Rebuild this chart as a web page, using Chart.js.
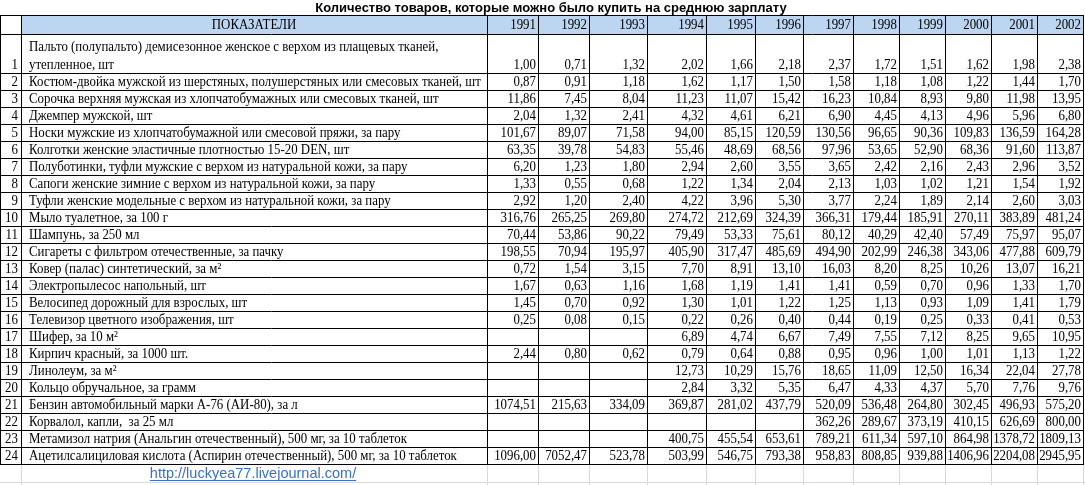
<!DOCTYPE html>
<html>
<head>
<meta charset="utf-8">
<script src="https://cdn.jsdelivr.net/npm/chart.js@4/dist/chart.umd.min.js"></script>
<style>
  body { margin: 0; background: #fff; }
  canvas { display: block; }
</style>
</head>
<body>
<canvas id="tablaChart" width="1085" height="485"></canvas>
<script>
// Годы (колонки таблицы)
const years = ['1991', '1992', '1993', '1994', '1995', '1996', '1997', '1998', '1999', '2000', '2001', '2002'];

// Показатели (строки таблицы)
const itemNames = [
    'Пальто (полупальто) демисезонное женское с верхом из плащевых тканей, утепленное, шт',
    'Костюм-двойка мужской из шерстяных, полушерстяных или смесовых тканей, шт',
    'Сорочка верхняя мужская из хлопчатобумажных или смесовых тканей, шт',
    'Джемпер мужской, шт',
    'Носки мужские из хлопчатобумажной или смесовой пряжи, за пару',
    'Колготки женские эластичные плотностью 15-20 DEN, шт',
    'Полуботинки, туфли мужские с верхом из натуральной кожи, за пару',
    'Сапоги женские зимние с верхом из натуральной кожи, за пару',
    'Туфли женские модельные с верхом из натуральной кожи, за пару',
    'Мыло туалетное, за 100 г',
    'Шампунь, за 250 мл',
    'Сигареты с фильтром отечественные, за пачку',
    'Ковер (палас) синтетический, за м²',
    'Электропылесос напольный, шт',
    'Велосипед дорожный для взрослых, шт',
    'Телевизор цветного изображения, шт',
    'Шифер, за 10 м²',
    'Кирпич красный, за 1000 шт.',
    'Линолеум, за м²',
    'Кольцо обручальное, за грамм',
    'Бензин автомобильный марки А-76 (АИ-80), за л',
    'Корвалол, капли,  за 25 мл',
    'Метамизол натрия (Анальгин отечественный), 500 мг, за 10 таблеток',
    'Ацетилсалициловая кислота (Аспирин отечественный), 500 мг, за 10 таблеток'
];

// Значения по годам 1991..2002 (null - нет данных)
const coat       = [1.00, 0.71, 1.32, 2.02, 1.66, 2.18, 2.37, 1.72, 1.51, 1.62, 1.98, 2.38];
const suit       = [0.87, 0.91, 1.18, 1.62, 1.17, 1.50, 1.58, 1.18, 1.08, 1.22, 1.44, 1.70];
const shirt      = [11.86, 7.45, 8.04, 11.23, 11.07, 15.42, 16.23, 10.84, 8.93, 9.80, 11.98, 13.95];
const jumper     = [2.04, 1.32, 2.41, 4.32, 4.61, 6.21, 6.90, 4.45, 4.13, 4.96, 5.96, 6.80];
const socks      = [101.67, 89.07, 71.58, 94.00, 85.15, 120.59, 130.56, 96.65, 90.36, 109.83, 136.59, 164.28];
const tights     = [63.35, 39.78, 54.83, 55.46, 48.69, 68.56, 97.96, 53.65, 52.90, 68.36, 91.60, 113.87];
const shoesMen   = [6.20, 1.23, 1.80, 2.94, 2.60, 3.55, 3.65, 2.42, 2.16, 2.43, 2.96, 3.52];
const boots      = [1.33, 0.55, 0.68, 1.22, 1.34, 2.04, 2.13, 1.03, 1.02, 1.21, 1.54, 1.92];
const shoesWomen = [2.92, 1.20, 2.40, 4.22, 3.96, 5.30, 3.77, 2.24, 1.89, 2.14, 2.60, 3.03];
const soap       = [316.76, 265.25, 269.80, 274.72, 212.69, 324.39, 366.31, 179.44, 185.91, 270.11, 383.89, 481.24];
const shampoo    = [70.44, 53.86, 90.22, 79.49, 53.33, 75.61, 80.12, 40.29, 42.40, 57.49, 75.97, 95.07];
const cigarettes = [198.55, 70.94, 195.97, 405.90, 317.47, 485.69, 494.90, 202.99, 246.38, 343.06, 477.88, 609.79];
const carpet     = [0.72, 1.54, 3.15, 7.70, 8.91, 13.10, 16.03, 8.20, 8.25, 10.26, 13.07, 16.21];
const vacuum     = [1.67, 0.63, 1.16, 1.68, 1.19, 1.41, 1.41, 0.59, 0.70, 0.96, 1.33, 1.70];
const bicycle    = [1.45, 0.70, 0.92, 1.30, 1.01, 1.22, 1.25, 1.13, 0.93, 1.09, 1.41, 1.79];
const tv         = [0.25, 0.08, 0.15, 0.22, 0.26, 0.40, 0.44, 0.19, 0.25, 0.33, 0.41, 0.53];
const slate      = [null, null, null, 6.89, 4.74, 6.67, 7.49, 7.55, 7.12, 8.25, 9.65, 10.95];
const brick      = [2.44, 0.80, 0.62, 0.79, 0.64, 0.88, 0.95, 0.96, 1.00, 1.01, 1.13, 1.22];
const linoleum   = [null, null, null, 12.73, 10.29, 15.76, 18.65, 11.09, 12.50, 16.34, 22.04, 27.78];
const ring       = [null, null, null, 2.84, 3.32, 5.35, 6.47, 4.33, 4.37, 5.70, 7.76, 9.76];
const petrol     = [1074.51, 215.63, 334.09, 369.87, 281.02, 437.79, 520.09, 536.48, 264.80, 302.45, 496.93, 575.20];
const corvalol   = [null, null, null, null, null, null, 362.26, 289.67, 373.19, 410.15, 626.69, 800.00];
const analgin    = [null, null, null, 400.75, 455.54, 653.61, 789.21, 611.34, 597.10, 864.98, 1378.72, 1809.13];
const aspirin    = [1096.00, 7052.47, 523.78, 503.99, 546.75, 793.38, 958.83, 808.85, 939.88, 1406.96, 2204.08, 2945.95];

const series = [coat, suit, shirt, jumper, socks, tights, shoesMen, boots, shoesWomen, soap, shampoo,
    cigarettes, carpet, vacuum, bicycle, tv, slate, brick, linoleum, ring, petrol, corvalol, analgin, aspirin];

// Ширины колонок: №, показатель, годы
const colWidths = [21, 466, 51, 51, 58, 59, 49, 48, 50, 46, 46, 46, 46, 46];
// Высоты строк: шапка, строка 1 (две линии), остальные
const rowHeights = [19, 39].concat(Array(23).fill(17));

function edges(sizes) {
    const out = [0];
    sizes.forEach(s => out.push(out[out.length - 1] + s));
    return out;
}
const colEdges = edges(colWidths);
const rowEdges = edges(rowHeights);

const fuente = '14px "Liberation Serif", "Times New Roman", serif';
const estrechar = 0.92; // el texto del original está algo comprimido en horizontal
const colorCabecera = '#bcd6f1';

function formatear(v) {
    return v.toFixed(2).replace('.', ',');
}

// Texto comprimido horizontalmente
function texto(ctx, t, x, y, align) {
    ctx.save();
    ctx.translate(x, y);
    ctx.scale(estrechar, 1);
    ctx.textAlign = align;
    ctx.fillText(t, 0, 0);
    ctx.restore();
}

// Partir texto en líneas para celdas altas
function partirTexto(ctx, t, ancho) {
    const palabras = t.split(' ');
    const lineas = [];
    let actual = '';
    palabras.forEach(p => {
        const prueba = actual ? actual + ' ' + p : p;
        if (ctx.measureText(prueba).width * estrechar > ancho && actual) {
            lineas.push(actual);
            actual = p;
        } else {
            actual = prueba;
        }
    });
    lineas.push(actual);
    return lineas;
}

const tablaPlugin = {
    id: 'tabla',
    beforeDraw(chart) {
        const { ctx, scales: { x, y } } = chart;
        ctx.save();
        ctx.fillStyle = colorCabecera;
        const l = x.getPixelForValue(colEdges[1]);
        const r = x.getPixelForValue(colEdges[colEdges.length - 1]);
        const t = y.getPixelForValue(rowEdges[0]);
        const b = y.getPixelForValue(rowEdges[1]);
        ctx.fillRect(l, t, r - l, b - t);
        ctx.restore();
    },
    afterDatasetsDraw(chart) {
        const { ctx, scales: { x, y } } = chart;
        ctx.save();
        ctx.fillStyle = '#000';
        ctx.font = fuente;
        ctx.textBaseline = 'alphabetic';

        // Cabecera
        const hb = y.getPixelForValue(rowEdges[1]) - 5;
        texto(ctx, 'ПОКАЗАТЕЛИ', (x.getPixelForValue(colEdges[1]) + x.getPixelForValue(colEdges[2])) / 2, hb, 'center');
        years.forEach((yr, j) => {
            texto(ctx, yr, x.getPixelForValue(colEdges[j + 3]) - 2, hb, 'right');
        });

        // Números y nombres de filas
        itemNames.forEach((nombre, i) => {
            const top = y.getPixelForValue(rowEdges[i + 1]);
            const bottom = y.getPixelForValue(rowEdges[i + 2]);
            const base = bottom - 4;
            texto(ctx, String(i + 1), x.getPixelForValue(colEdges[1]) - 3, base, 'right');
            const xl = x.getPixelForValue(colEdges[1]) + 8;
            if (bottom - top > 30) {
                const lineas = partirTexto(ctx, nombre, colWidths[1] - 12);
                lineas.forEach((ln, k) => {
                    texto(ctx, ln, xl, base - (lineas.length - 1 - k) * 18, 'left');
                });
            } else {
                texto(ctx, nombre, xl, base, 'left');
            }
        });

        // Valores: cada punto ya está posicionado por las escalas
        chart.data.datasets.forEach((ds, d) => {
            const meta = chart.getDatasetMeta(d);
            meta.data.forEach((el, k) => {
                texto(ctx, formatear(ds.data[k].v), el.x - 2, el.y - 4, 'right');
            });
        });
        ctx.restore();
    },
    afterDraw(chart) {
        const { ctx, scales: { x, y } } = chart;
        ctx.save();
        // Título
        ctx.fillStyle = '#000';
        ctx.font = 'bold 13px "Liberation Sans", Arial, sans-serif';
        ctx.textAlign = 'center';
        ctx.fillText('Количество товаров, которые можно было купить на среднюю зарплату', 551, 12);

        // Rejilla tenue de Excel bajo la tabla
        const yb = y.getPixelForValue(rowEdges[rowEdges.length - 1]);
        ctx.strokeStyle = '#d9d9d9';
        ctx.lineWidth = 1;
        ctx.beginPath();
        colEdges.slice(1).forEach(v => {
            const px = Math.round(x.getPixelForValue(v)) + 0.5;
            ctx.moveTo(px, yb + 1);
            ctx.lineTo(px, chart.height);
        });
        ctx.moveTo(0, yb + 18.5);
        ctx.lineTo(chart.width, yb + 18.5);
        ctx.stroke();

        // Enlace
        const url = 'http://luckyea77.livejournal.com/';
        ctx.font = '14.5px "Liberation Sans", Arial, sans-serif';
        ctx.fillStyle = '#3d6fc2';
        const cx = 253;
        ctx.fillText(url, cx, yb + 14);
        const w = ctx.measureText(url).width;
        ctx.fillRect(cx - w / 2, yb + 16, w, 1);
        ctx.restore();
    }
};

function crearTabla() {
    const ctx = document.getElementById('tablaChart').getContext('2d');
    new Chart(ctx, {
        type: 'scatter',
        data: {
            datasets: years.map((yr, j) => ({
                label: yr,
                data: series.map((fila, i) => ({ x: colEdges[j + 3], y: rowEdges[i + 2], v: fila[j] }))
                    .filter(p => p.v !== null),
                pointRadius: 0,
                pointHoverRadius: 0
            }))
        },
        options: {
            responsive: false,
            animation: false,
            events: [],
            devicePixelRatio: 1,
            layout: { padding: { left: 0, right: 2, top: 15, bottom: 21 } },
            plugins: {
                legend: { display: false },
                tooltip: { enabled: false },
                title: { display: false }
            },
            scales: {
                x: {
                    type: 'linear',
                    min: 0,
                    max: colEdges[colEdges.length - 1],
                    ticks: { display: false },
                    grid: { color: '#000', drawTicks: false, lineWidth: 1 },
                    border: { display: true, color: '#000' },
                    afterBuildTicks: s => { s.ticks = colEdges.map(v => ({ value: v })); },
                    afterFit: s => { s.height = 0; }
                },
                y: {
                    type: 'linear',
                    reverse: true,
                    min: 0,
                    max: rowEdges[rowEdges.length - 1],
                    ticks: { display: false },
                    grid: { color: '#000', drawTicks: false, lineWidth: 1 },
                    border: { display: true, color: '#000' },
                    afterBuildTicks: s => { s.ticks = rowEdges.map(v => ({ value: v })); },
                    afterFit: s => { s.width = 0; }
                }
            }
        },
        plugins: [tablaPlugin]
    });
}

document.addEventListener('DOMContentLoaded', crearTabla);
</script>
</body>
</html>
